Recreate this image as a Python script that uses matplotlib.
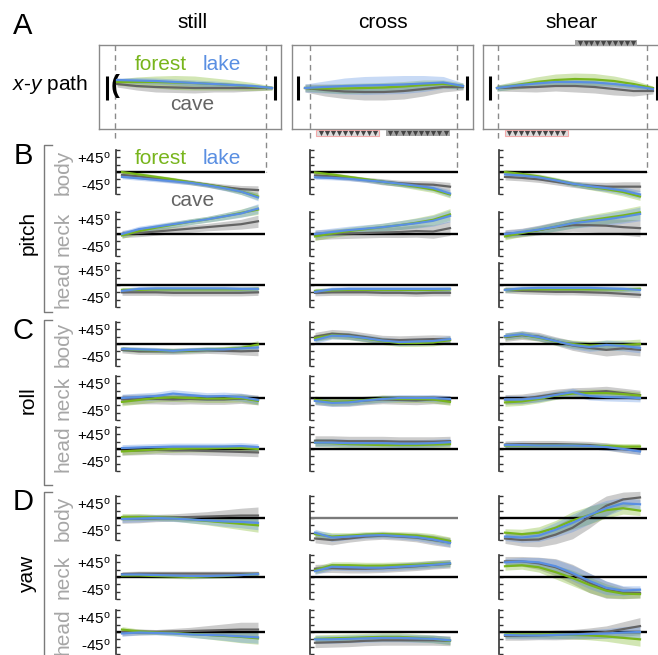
import numpy as np
import matplotlib.pyplot as plt
from matplotlib.patches import Rectangle

plt.rcParams.update({
    "font.family": ["Liberation Sans", "DejaVu Sans"],
    "mathtext.fontset": "custom",
    "mathtext.rm": "Liberation Sans",
    "mathtext.it": "Liberation Sans:italic",
    "font.size": 11,
})

W, H = 658, 655

conditions = ["still", "cross", "shear"]
angles = ["pitch", "roll", "yaw"]
parts = ["body", "neck", "head"]
envs = ["cave", "forest", "lake"]
colors = {"forest": "#78b51c", "lake": "#5a8fe2", "cave": "#646464"}
t = np.linspace(0, 1, 9)

# x-y path: lateral offset (px) of the mean path, and its spread
path_mean = {
    "still": {"forest": [6, 6, 6, 5.5, 5, 4, 3, 1.5, 0],
              "lake": [8, 7.5, 7, 6, 5, 4, 3, 2, 0],
              "cave": [4, 2, 1, 0.5, 0, 0, 0, 0, 0]},
    "cross": {"forest": [0, -0.5, -0.5, 0, 0.5, 1.5, 3, 4, 2],
              "lake": [0, 1, 2, 2.5, 3, 3.5, 4.5, 5.5, 2],
              "cave": [0, -2, -3.5, -4, -4, -3, -1, 1, 1]},
    "shear": {"forest": [0, 3, 6, 8, 9, 8.5, 7, 4, 0],
              "lake": [0, 2.5, 4.5, 6, 6, 5.5, 4, 2, -1],
              "cave": [0, 0.5, 1, 2, 2, 1, -1, -3, -3]},
}
path_sd = {
    "still": {"forest": [3, 5, 6, 7, 7, 6, 5, 4, 2],
              "lake": [2, 3, 3, 3, 3, 3, 2.5, 2, 1.5],
              "cave": [3, 4, 5, 5, 5, 4, 4, 3, 2]},
    "cross": {"forest": [3, 4, 5, 5, 5, 5, 5, 4, 3],
              "lake": [4, 6, 8, 9, 9, 9, 8, 6, 3],
              "cave": [4, 6, 7, 8, 8, 8, 7, 5, 3]},
    "shear": {"forest": [3, 4, 5, 6, 6, 6, 5, 4, 2],
              "lake": [3, 3, 3, 3, 3, 3, 3, 3, 2],
              "cave": [3, 4, 5, 5, 6, 6, 6, 5, 3]},
}
# stimulus events under / over the path boxes (fraction of run)
events = {
    "still": [],
    "cross": [("pink", 0.07, 0.47, "below"), ("gray", 0.51, 0.92, "below")],
    "shear": [("gray", 0.50, 0.90, "above"), ("pink", 0.05, 0.455, "below")],
}

# angles in degrees: forest, lake, cave means and a shared spread
pitch_body = {
    "still": {"forest": [0, -5, -10, -15, -21, -26, -32, -40, -50],
              "lake": [-10, -13, -16, -19, -22, -27, -33, -40, -52],
              "cave": [-6, -9, -13, -17, -21, -26, -31, -35, -37],
              "sd": [4, 4, 4, 4, 4, 4, 5, 6, 7]},
    "cross": {"forest": [-1, -5, -10, -15, -20, -25, -30, -36, -46],
              "lake": [-11, -12, -14, -17, -20, -24, -28, -33, -44],
              "cave": [-7, -9, -12, -16, -20, -23, -25, -26, -30],
              "sd": [4, 4, 4, 4, 5, 5, 6, 6, 7]},
    "shear": {"forest": [0, -4, -9, -16, -24, -30, -35, -41, -50],
              "lake": [-5, -7, -11, -17, -24, -29, -33, -38, -46],
              "cave": [-10, -12, -15, -20, -25, -28, -30, -30, -30],
              "sd": [5, 5, 5, 5, 5, 6, 7, 8, 8]},
}
pitch_neck = {
    "still": {"forest": [-3, 6, 13, 19, 25, 30, 36, 43, 50],
              "lake": [0, 10, 15, 20, 25, 30, 36, 42, 52],
              "cave": [0, 2, 5, 8, 11, 14, 17, 20, 26],
              "sd": [6, 6, 6, 6, 6, 6, 7, 8, 10]},
    "cross": {"forest": [-5, 1, 6, 10, 14, 18, 23, 29, 40],
              "lake": [0, 4, 8, 11, 14, 18, 22, 27, 37],
              "cave": [-2, 0, 1, 2, 3, 4, 6, 5, 12],
              "sd": [8, 8, 8, 8, 8, 9, 10, 11, 12]},
    "shear": {"forest": [-5, 2, 8, 15, 22, 28, 33, 38, 44],
              "lake": [0, 4, 9, 15, 22, 26, 30, 35, 41],
              "cave": [0, 3, 8, 14, 18, 18, 17, 14, 12],
              "sd": [7, 7, 8, 9, 10, 11, 12, 13, 14]},
}
pitch_head = {
    "still": {"forest": [-10, -10, -9, -9, -9, -9, -9, -9, -8],
              "lake": [-12, -8, -7, -7, -7, -7, -7, -8, -8],
              "cave": [-15, -15, -15, -16, -16, -16, -16, -16, -15],
              "sd": [5, 5, 5, 5, 5, 5, 5, 5, 5]},
    "cross": {"forest": [-12, -11, -10, -10, -10, -10, -10, -10, -9],
              "lake": [-14, -9, -8, -8, -8, -8, -8, -8, -8],
              "cave": [-16, -15, -15, -15, -16, -16, -17, -16, -16],
              "sd": [5, 5, 5, 5, 5, 5, 5, 5, 5]},
    "shear": {"forest": [-10, -9, -9, -9, -9, -9, -9, -9, -8],
              "lake": [-10, -7, -6, -6, -6, -6, -7, -8, -10],
              "cave": [-10, -12, -13, -14, -14, -15, -16, -18, -20],
              "sd": [5, 5, 5, 5, 5, 5, 5, 5, 5]},
}
roll_body = {
    "still": {"forest": [-10, -12, -13, -14, -13, -11, -10, -8, -1],
              "lake": [-10, -11, -12, -14, -12, -11, -11, -9, -7],
              "cave": [-12, -15, -15, -15, -14, -13, -14, -15, -14],
              "sd": [5, 5, 5, 5, 5, 5, 5, 6, 8]},
    "cross": {"forest": [12, 18, 16, 11, 6, 2, 2, 3, 8],
              "lake": [8, 17, 16, 12, 7, 4, 5, 6, 10],
              "cave": [15, 21, 19, 14, 9, 8, 9, 10, 9],
              "sd": [7, 7, 7, 7, 7, 7, 7, 7, 7]},
    "shear": {"forest": [15, 19, 13, 5, 0, -3, -2, -2, 0],
              "lake": [16, 20, 14, 6, -2, -6, -2, -4, -8],
              "cave": [14, 18, 15, 6, -3, -8, -12, -9, -12],
              "sd": [7, 7, 7, 7, 8, 9, 10, 10, 10]},
}
roll_neck = {
    "still": {"forest": [-8, -4, 0, 1, 0, -1, -1, 0, -6],
              "lake": [0, 2, 4, 9, 6, 3, 4, 2, -4],
              "cave": [-3, -2, -2, -3, -2, -3, -3, -1, -4],
              "sd": [8, 8, 8, 8, 8, 8, 8, 8, 8]},
    "cross": {"forest": [-4, -8, -7, -4, -1, -2, -2, -3, -8],
              "lake": [-6, -10, -9, -5, -2, 0, 0, 0, -2],
              "cave": [-5, -8, -8, -5, -3, -4, -5, -3, -4],
              "sd": [7, 7, 7, 7, 7, 7, 7, 7, 7]},
    "shear": {"forest": [-9, -7, -2, 5, 9, 10, 10, 8, 5],
              "lake": [-3, -3, 0, 6, 12, 4, 2, 1, 0],
              "cave": [-3, -2, 3, 8, 11, 12, 14, 10, 6],
              "sd": [8, 8, 8, 8, 8, 8, 8, 8, 8]},
}
roll_head = {
    "still": {"forest": [-5, -3, -1, 0, 1, 1, 2, 2, 0],
              "lake": [2, 3, 4, 5, 5, 5, 5, 6, 4],
              "cave": [-4, -3, -2, -3, -3, -4, -5, -6, -7],
              "sd": [7, 7, 7, 7, 7, 7, 7, 7, 7]},
    "cross": {"forest": [13, 12, 10, 9, 8, 8, 8, 9, 10],
              "lake": [13, 13, 12, 12, 12, 11, 11, 12, 14],
              "cave": [17, 17, 16, 16, 16, 15, 15, 15, 16],
              "sd": [8, 8, 8, 8, 8, 8, 8, 8, 8]},
    "shear": {"forest": [7, 7, 7, 7, 7, 6, 6, 5, 5],
              "lake": [8, 8, 7, 7, 7, 6, 4, 0, -5],
              "cave": [9, 10, 10, 10, 9, 8, 5, 0, -4],
              "sd": [6, 6, 6, 6, 6, 6, 6, 6, 6]},
}
yaw_body = {
    "still": {"forest": [2, 2, 1, 0, -3, -6, -9, -12, -15],
              "lake": [-2, -1, 0, -1, -3, -5, -7, -8, -10],
              "cave": [-2, -1, 0, 1, 2, 3, 4, 5, 5],
              "sd": [7, 7, 6, 6, 7, 8, 10, 12, 14]},
    "cross": {"forest": [-33, -38, -36, -34, -33, -34, -36, -40, -47],
              "lake": [-30, -40, -38, -36, -35, -37, -39, -44, -51],
              "cave": [-42, -45, -42, -38, -36, -38, -40, -45, -50],
              "sd": [7, 8, 6, 6, 6, 6, 7, 8, 8]},
    "shear": {"forest": [-30, -33, -30, -20, -5, 6, 16, 20, 15],
              "lake": [-38, -40, -36, -24, -10, 6, 20, 30, 28],
              "cave": [-42, -45, -44, -34, -20, 2, 25, 38, 42],
              "sd": [8, 10, 12, 15, 18, 18, 16, 12, 10]},
}
yaw_neck = {
    "still": {"forest": [3, 3, 2, 1, 0, 1, 2, 4, 6],
              "lake": [5, 5, 4, 3, 2, 2, 3, 4, 6],
              "cave": [6, 7, 7, 7, 7, 7, 7, 7, 7],
              "sd": [4, 4, 4, 4, 4, 4, 4, 4, 4]},
    "cross": {"forest": [14, 24, 24, 23, 23, 24, 25, 27, 28],
              "lake": [12, 21, 20, 19, 19, 21, 23, 25, 28],
              "cave": [17, 18, 17, 17, 18, 20, 22, 25, 27],
              "sd": [7, 7, 7, 7, 7, 7, 7, 7, 7]},
    "shear": {"forest": [22, 24, 20, 10, -2, -16, -28, -34, -35],
              "lake": [30, 32, 30, 22, 8, -8, -22, -28, -26],
              "cave": [32, 32, 28, 20, 6, -12, -26, -32, -33],
              "sd": [8, 8, 10, 14, 16, 16, 14, 10, 8]},
}
yaw_head = {
    "still": {"forest": [5, 1, -1, -2, -4, -6, -8, -10, -13],
              "lake": [-3, -1, -2, -3, -5, -6, -7, -9, -11],
              "cave": [0, 0, 0, 1, 2, 3, 4, 5, 5],
              "sd": [6, 5, 4, 5, 6, 8, 10, 12, 12]},
    "cross": {"forest": [-14, -13, -12, -11, -10, -10, -12, -14, -18],
              "lake": [-15, -15, -14, -13, -12, -12, -13, -14, -17],
              "cave": [-22, -21, -20, -18, -17, -17, -17, -17, -18],
              "sd": [8, 8, 8, 8, 8, 8, 8, 8, 8]},
    "shear": {"forest": [-5, -5, -5, -5, -6, -7, -9, -12, -15],
              "lake": [-6, -7, -7, -6, -5, -4, -3, -1, 0],
              "cave": [-8, -8, -7, -6, -5, -3, 0, 6, 12],
              "sd": [7, 7, 7, 8, 8, 9, 10, 12, 14]},
}
panels = [pitch_body, pitch_neck, pitch_head,
          roll_body, roll_neck, roll_head,
          yaw_body, yaw_neck, yaw_head]
range_labels = [r"+45$^{\mathrm{o}}$", r"-45$^{\mathrm{o}}$"]

# layout (pixels)
zero_y = [172, 234, 285, 344, 398, 449, 518, 577, 632]
col_geo = {
    "still": dict(spine=116, end=265, d0=122, d1=258, box=(99, 281), p0=117, p1=272,
                  bars=(107, 275), dash=(115, 266), title=192),
    "cross": dict(spine=310, end=458, d0=315, d1=450, box=(292, 473), p0=305, p1=463,
                  bars=(298, 467), dash=(310, 457), title=383),
    "shear": dict(spine=499, end=647, d0=505, d1=640, box=(483, 680), p0=497, p1=653,
                  bars=(490, 657), dash=(498, 647), title=572),
}

fig = plt.figure(figsize=(W / 100, H / 100), dpi=100)


def px_axes(x0, y0, x1, y1):
    ax = fig.add_axes([x0 / W, 1 - y1 / H, (x1 - x0) / W, (y1 - y0) / H])
    ax.patch.set_visible(False)
    return ax


ov = px_axes(0, 0, W, H)
ov.set_xlim(0, W)
ov.set_ylim(H, 0)
ov.axis("off")

# ---- row A: x-y paths
for cond in conditions:
    g = col_geo[cond]
    ov.text(g["title"], 22, cond, fontsize=15, ha="center", va="center")
    span = g["p1"] - g["p0"]
    ax = px_axes(g["box"][0], 45, g["box"][1], 129)
    ax.set_xlim((g["box"][0] - g["p0"]) / span, (g["box"][1] - g["p0"]) / span)
    ax.set_ylim(-41, 43)
    ax.set_xticks([])
    ax.set_yticks([])
    for s in ax.spines.values():
        s.set_color("#8a8a8a")
        s.set_linewidth(1.0)
    for env in envs:
        m = np.array(path_mean[cond][env])
        sd = np.array(path_sd[cond][env])
        ax.fill_between(t, m - sd, m + sd, color=colors[env], alpha=0.33, lw=0, zorder=1)
    for env in envs:
        ax.plot(t, path_mean[cond][env], color=colors[env], lw=1.6, zorder=3)
    for b in g["bars"]:
        bx = (b - g["p0"]) / span
        ax.plot([bx, bx], [-12, 12], color="k", lw=2.2, solid_capstyle="butt",
                clip_on=False, zorder=4)
    for kind, a, b, side in events[cond]:
        y0 = -48 if side == "below" else 42
        fc = "#dcdcdc" if kind == "pink" else "#a4a4a4"
        ec = "#f2aaaa" if kind == "pink" else "none"
        ax.add_patch(Rectangle((a, y0), b - a, 6, facecolor=fc, edgecolor=ec,
                               lw=0.8, clip_on=False, zorder=5))
        ax.scatter(np.linspace(a + 0.03, b - 0.03, 10), np.full(10, y0 + 3.2),
                   marker="v", s=14, color="#444444", lw=0, clip_on=False, zorder=6)
    ov.plot([g["dash"][0]] * 2, [45, 142], color="#8a8a8a", lw=1, dashes=(4, 3))
    ov.plot([g["dash"][1]] * 2, [45, 172], color="#8a8a8a", lw=1, dashes=(4, 3))

ov.text(115, 86, "(", fontsize=19, fontweight="bold", ha="center", va="center")
ov.text(50, 84, r"$\mathit{x}$-$\mathit{y}$ path", fontsize=15, ha="center", va="center")
for y, lab_y in [(65, 104), (158, 200)]:
    ov.text(161, y, "forest", color=colors["forest"], fontsize=15, ha="center", va="center")
    ov.text(222, y, "lake", color=colors["lake"], fontsize=15, ha="center", va="center")
    ov.text(192, lab_y, "cave", color=colors["cave"], fontsize=15, ha="center", va="center")

# ---- rows B-D: pitch / roll / yaw
for r, data in enumerate(panels):
    z = zero_y[r]
    for cond in conditions:
        g = col_geo[cond]
        span = g["d1"] - g["d0"]
        ax = px_axes(g["spine"], z - 22, g["end"], z + 22)
        ax.set_xlim((g["spine"] - g["d0"]) / span, (g["end"] - g["d0"]) / span)
        ax.set_ylim(-45, 45)
        for side in ["top", "right", "bottom"]:
            ax.spines[side].set_visible(False)
        ax.spines["left"].set_color("#333333")
        ax.spines["left"].set_linewidth(1.2)
        ax.set_xticks([])
        ax.set_yticks(np.arange(-45, 46, 15))
        ax.set_yticklabels([])
        ax.tick_params(axis="y", direction="in", length=3.2, width=1, color="#333333")
        zc = "#7a7a7a" if (r == 6 and cond == "cross") else "k"
        ax.axhline(0, color=zc, lw=1.7, zorder=2)
        d = data[cond]
        sd = np.array(d["sd"])
        for env in envs:
            m = np.array(d[env])
            k = 1.25 if env == "cave" else 1.0
            ax.fill_between(t, m - k * sd, m + k * sd, color=colors[env], alpha=0.33,
                            lw=0, zorder=1, clip_on=False)
        for env in envs:
            ax.plot(t, d[env], color=colors[env], lw=1.6, zorder=3, clip_on=False)
    ov.text(111, z - 21, range_labels[0], fontsize=11, ha="right", va="top")
    ov.text(111, z + 22, range_labels[1], fontsize=11, ha="right", va="bottom")
    ov.text(63, z, parts[r % 3], color="#a6a6a6", fontsize=15, rotation=90,
            ha="center", va="center")

for lab, y in [("A", 26), ("B", 156), ("C", 331), ("D", 502)]:
    ov.text(23, y, lab, fontsize=21, ha="center", va="center")

for name, (y0, y1), yc in [("pitch", (145, 312), 233), ("roll", (320, 485), 400),
                           ("yaw", (492, 680), 574)]:
    ov.plot([52, 44, 44, 52], [y0, y0, y1, y1], color="#7a7a7a", lw=1)
    ov.text(28, yc, name, fontsize=15, rotation=90, ha="center", va="center")

fig.savefig("out.png", dpi=100)
plt.close(fig)
